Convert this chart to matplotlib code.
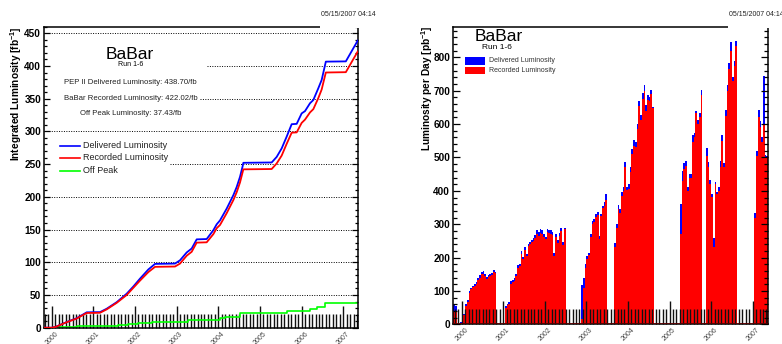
#!/usr/bin/env python3

import numpy as np
import matplotlib
matplotlib.use("Agg")
import matplotlib.pyplot as plt
from matplotlib.patches import Rectangle
from matplotlib.ticker import MultipleLocator, FixedLocator
from matplotlib.transforms import ScaledTranslation

plt.rcParams['font.family'] = 'Liberation Sans'
plt.rcParams['mathtext.default'] = 'regular'

# integrated luminosity (fb^-1) versus time
lumi_years = [1999.815, 2000.0, 2000.10, 2000.36, 2000.60, 2000.84, 2001.16, 2001.32, 2001.56,
              2001.80, 2001.96, 2002.12, 2002.32, 2002.48, 2002.96, 2003.08, 2003.24, 2003.36,
              2003.48, 2003.72, 2003.88, 2003.96, 2004.04, 2004.20, 2004.36, 2004.44, 2004.52,
              2004.58, 2004.60, 2005.28, 2005.40, 2005.52, 2005.64, 2005.76, 2005.88, 2006.00,
              2006.08, 2006.20, 2006.28, 2006.40, 2006.48, 2006.58, 2007.06, 2007.345]
delivered_total = [0, 0, 1.5, 8.7, 14.5, 23.5, 23.8, 29, 39, 52, 63, 75, 89, 97.5, 98, 103, 115,
                   121, 135, 135.5, 149, 158, 164, 182, 202.5, 215, 230.6, 246, 252, 252.5, 261,
                   274, 292, 311, 311.5, 327.5, 331, 343, 348, 366, 378.6, 406.6, 407, 438.70]
recorded_total = [0, 0, 1.4, 8.4, 14, 22.5, 22.8, 28, 38, 50, 61, 72, 85, 93, 93.5, 98, 110,
                  116, 130, 130.5, 143, 152, 157, 175, 195, 207, 222, 237, 242, 242.5, 251,
                  263, 281, 298, 298.5, 313, 318, 329, 334, 351, 364, 390, 390.5, 422.02]
offpeak_years = [1999.815, 2000.10, 2000.60, 2001.16, 2001.60, 2001.84, 2002.08, 2002.40, 2003.28,
                 2003.88, 2004.04, 2004.16, 2004.52, 2005.64, 2006.20, 2006.38, 2006.56, 2007.345]
offpeak_total = [0, 0.5, 2, 3, 4, 6, 7.6, 9.2, 11.2, 12.5, 14.8, 16.5, 22, 25, 28.5, 31.5, 37.2, 37.43]

# luminosity per day (pb^-1), half-month bins, first bin starts at 1999 + 19/24
delivered_1999 = [62, 55, 0, 0, 8]
recorded_1999 = [40, 38, 0, 0, 5]
delivered_2000 = [12, 32, 60, 72, 100, 110, 115, 120, 128, 140, 148, 156,
                  160, 150, 141, 148, 150, 153, 163, 158, 0, 0, 0, 0]
recorded_2000 = [8, 27, 56, 67, 95, 105, 111, 115, 122, 134, 140, 150,
                 152, 144, 136, 143, 146, 148, 156, 154, 0, 0, 0, 0]
delivered_2001 = [0, 55, 62, 68, 130, 132, 138, 152, 178, 182, 220, 202,
                  232, 212, 242, 248, 254, 258, 268, 282, 278, 285, 282, 272]
recorded_2001 = [0, 50, 57, 60, 122, 126, 130, 145, 170, 175, 212, 196,
                 224, 205, 236, 241, 248, 250, 260, 270, 265, 274, 272, 262]
delivered_2002 = [262, 286, 284, 282, 276, 215, 270, 252, 274, 290, 246, 290,
                  0, 0, 0, 0, 0, 0, 0, 0, 0, 118, 138, 180]
recorded_2002 = [255, 278, 275, 272, 268, 205, 262, 244, 266, 280, 238, 287,
                 0, 0, 0, 0, 0, 0, 0, 0, 0, 15, 110, 168]
delivered_2003 = [205, 215, 272, 310, 316, 330, 338, 265, 332, 356, 366, 390,
                  0, 0, 0, 0, 245, 300, 358, 345, 396, 412, 486, 412]
recorded_2003 = [196, 208, 262, 302, 308, 322, 328, 255, 325, 348, 356, 372,
                 0, 0, 0, 0, 232, 290, 345, 335, 385, 400, 472, 402]
delivered_2004 = [420, 470, 525, 552, 546, 600, 668, 628, 692, 716, 658, 688,
                  682, 702, 652, 0, 0, 0, 0, 0, 0, 0, 0, 0]
recorded_2004 = [405, 455, 510, 535, 530, 585, 655, 612, 675, 700, 640, 672,
                 668, 690, 648, 0, 0, 0, 0, 0, 0, 0, 0, 0]
delivered_2005 = [0, 0, 0, 0, 0, 0, 362, 458, 482, 490, 412, 450,
                  450, 566, 572, 640, 612, 632, 702, 0, 0, 528, 486, 432]
recorded_2005 = [0, 0, 0, 0, 0, 0, 272, 430, 465, 475, 400, 440,
                 440, 545, 560, 632, 600, 620, 688, 0, 0, 505, 470, 422]
delivered_2006 = [392, 258, 428, 396, 412, 490, 568, 482, 642, 716, 782, 846,
                  742, 790, 850, 0, 0, 0, 0, 0, 0, 0, 0, 0]
recorded_2006 = [382, 232, 420, 390, 400, 470, 548, 470, 625, 700, 765, 820,
                 730, 775, 835, 0, 0, 0, 0, 0, 0, 0, 0, 0]
delivered_2007 = [0, 335, 518, 642, 608, 562, 745, 508, 505]
recorded_2007 = [0, 320, 505, 622, 590, 545, 600, 500, 500]

year_ticks = list(range(2000, 2008))
month_ticks = np.arange(1999 + 10 / 12, 2007.4, 1 / 12)

W, H = 782, 344
fig = plt.figure(figsize=(W / 100, H / 100), dpi=100)


def px_axes(x0, y0, x1, y1):
    return fig.add_axes([x0 / W, 1 - y1 / H, (x1 - x0) / W, (y1 - y0) / H])


def root_style(ax, ymax, ystep, yminor, xlen, ylen):
    ax.set_ylim(0, ymax)
    yt = list(range(0, int(ymax) + 1, ystep))
    ax.set_yticks(yt, labels=[str(v) for v in yt], fontsize=7.2, fontweight='bold')
    ax.yaxis.set_minor_locator(MultipleLocator(yminor))
    ax.set_xticks(year_ticks, labels=[])
    ax.xaxis.set_minor_locator(FixedLocator(month_ticks))
    ax.tick_params(axis='x', which='major', direction='in', length=xlen[0], width=1.0,
                   color='#111111', top=False)
    ax.tick_params(axis='x', which='minor', direction='in', length=xlen[1], width=1.0,
                   color='#111111', top=False)
    ax.tick_params(axis='y', which='both', direction='in', left=True, right=True, width=0.9, pad=2)
    ax.tick_params(axis='y', which='major', length=ylen[0])
    ax.tick_params(axis='y', which='minor', length=ylen[1])
    for s in ax.spines.values():
        s.set_linewidth(1.1)
    # rotated year labels below the frame
    off = ScaledTranslation(3 / 100, -2.5 / 100, fig.dpi_scale_trans)
    for y in year_ticks:
        ax.text(y, 0, str(y), transform=ax.get_xaxis_transform() + off, rotation=45,
                rotation_mode='anchor', ha='right', va='top', fontsize=5, color='#444444',
                clip_on=False)


# ---- left: integrated luminosity ----
ax1 = px_axes(44, 26.7, 357.7, 327.7)
ax1.set_xlim(1999.815, 2007.345)
root_style(ax1, 460, 50, 10, (15.8, 10.4), (4.3, 2.4))

grid_start = {400: 2003.73, 350: 2003.56, 250: 2002.84}
for lvl in range(50, 451, 50):
    ax1.hlines(lvl, grid_start.get(lvl, 1999.815), 2007.345, colors='black',
               linestyles=(0, (1, 1.5)), lw=0.7, zorder=0.8)

ax1.plot(lumi_years, delivered_total, color='#0000ff', lw=1.3, zorder=3)
ax1.plot(lumi_years, recorded_total, color='#ff0000', lw=1.3, zorder=3)
ax1.plot(offpeak_years, offpeak_total, color='#00ff00', lw=1.2, drawstyle='steps-post', zorder=2.5)

ax1.text(0.274, 0.906, 'BaBar', transform=ax1.transAxes, ha='center', va='center', fontsize=12.5)
ax1.text(0.277, 0.874, 'Run 1-6', transform=ax1.transAxes, ha='center', va='center', fontsize=5)
ax1.text(0.276, 0.816, f'PEP II Delivered Luminosity: {delivered_total[-1]:.2f}/fb',
         transform=ax1.transAxes, ha='center', va='center', fontsize=5.6, color='#222222')
ax1.text(0.276, 0.761, f'BaBar Recorded Luminosity: {recorded_total[-1]:.2f}/fb',
         transform=ax1.transAxes, ha='center', va='center', fontsize=5.6, color='#222222')
ax1.text(0.276, 0.712, f'Off Peak Luminosity: {offpeak_total[-1]:.2f}/fb',
         transform=ax1.transAxes, ha='center', va='center', fontsize=5.6, color='#222222')

for yy, col, name in [(0.6047, '#0000ff', 'Delivered Luminosity'),
                      (0.5648, '#ff0000', 'Recorded Luminosity'),
                      (0.5206, '#00ff00', 'Off Peak')]:
    ax1.plot([0.051, 0.1148], [yy, yy], color=col, lw=1.2, transform=ax1.transAxes)
    ax1.text(0.1253, yy, name, transform=ax1.transAxes, va='center', fontsize=6.5, color='#222222')

# ---- right: luminosity per day ----
ax2 = px_axes(453, 26.7, 768, 324.3)
ax2.set_xlim(1999.79, 2007.37)
root_style(ax2, 892, 100, 20, (16.5, 10.8), (5.0, 2.9))

delivered_day = np.concatenate([delivered_1999, delivered_2000, delivered_2001, delivered_2002,
                                delivered_2003, delivered_2004, delivered_2005, delivered_2006,
                                delivered_2007])
recorded_day = np.concatenate([recorded_1999, recorded_2000, recorded_2001, recorded_2002,
                               recorded_2003, recorded_2004, recorded_2005, recorded_2006,
                               recorded_2007])
edges = 1999 + 19 / 24 + np.arange(len(delivered_day) + 1) / 24
ax2.stairs(delivered_day, edges, fill=True, color='#0000ff', lw=0)
ax2.stairs(recorded_day, edges, fill=True, color='#ff0000', lw=0)
ax2.axhline(0, color='#6b0000', lw=1.8, zorder=3)

ax2.text(0.1444, 0.9664, 'BaBar', transform=ax2.transAxes, ha='center', va='center', fontsize=12.5)
ax2.text(0.1397, 0.9294, 'Run 1-6', transform=ax2.transAxes, ha='center', va='center', fontsize=6)
ax2.add_patch(Rectangle((0.0381, 0.8713), 0.0635, 0.0269, transform=ax2.transAxes,
                        fc='#0000ff', ec='none'))
ax2.add_patch(Rectangle((0.0381, 0.8411), 0.0635, 0.0245, transform=ax2.transAxes,
                        fc='#ff0000', ec='none'))
ax2.text(0.1143, 0.8848, 'Delivered Luminosity', transform=ax2.transAxes, va='center',
         fontsize=5, color='#333333')
ax2.text(0.1143, 0.8545, 'Recorded Luminosity', transform=ax2.transAxes, va='center',
         fontsize=5, color='#333333')

# axis titles
fig.text(16 / W, 1 - 94 / H, 'Integrated Luminosity [fb$^{-1}$]', rotation=90,
         ha='center', va='center', fontsize=7.3, fontweight='bold')
fig.text(427 / W, 1 - 88 / H, 'Luminosity per Day [pb$^{-1}$]', rotation=90,
         ha='center', va='center', fontsize=7.3, fontweight='bold')

# date stamps with their white boxes over the frame corners
for x0 in (320, 728):
    fig.add_artist(Rectangle((x0 / W, 1 - 28.3 / H), 45 / W, 28.3 / H, transform=fig.transFigure,
                             fc='white', ec='none', zorder=5))
    fig.text((x0 + 1) / W, 1 - 14.3 / H, '05/15/2007 04:14', ha='left', va='center',
             fontsize=5, color='#222222', zorder=6)

fig.savefig('out.png', dpi=100)
